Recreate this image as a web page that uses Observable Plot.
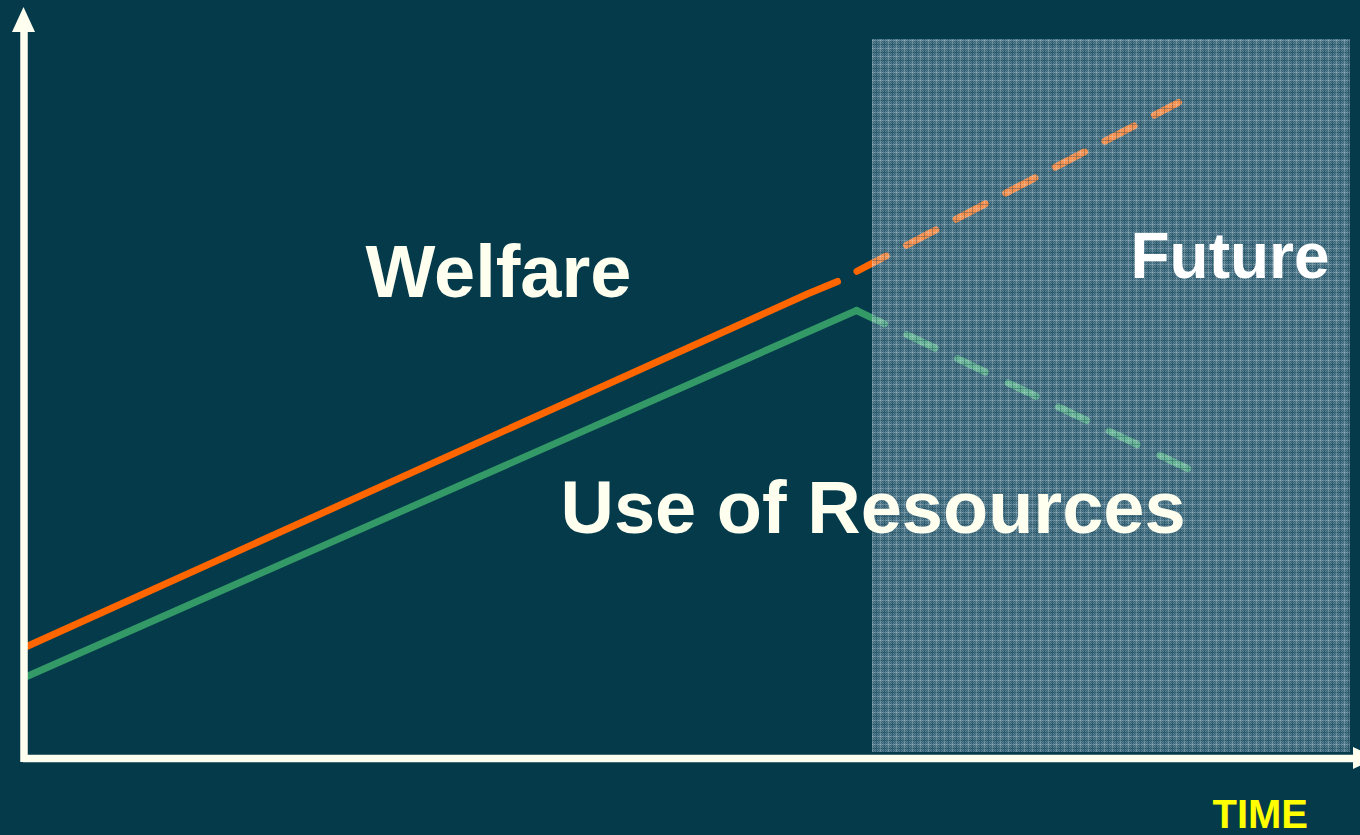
<!DOCTYPE html>
<html>
<head>
<meta charset="utf-8">
<script src="https://cdn.jsdelivr.net/npm/d3@7"></script>
<script src="https://cdn.jsdelivr.net/npm/@observablehq/plot@0.6"></script>
<style>
  html, body { margin: 0; padding: 0; background: #053a4b; overflow: hidden; }
  #chart svg { display: block; }
</style>
</head>
<body>
<div id="chart"></div>
<script>
// ---- data (time units along x, level units along y) ----
const welfareTime = [0, 784, 813];
const welfareLevel = [112, 466, 478];
const welfareFutureTime = [813, 1154];
const welfareFutureLevel = [478, 657];

const resourcesTime = [0, 832];
const resourcesLevel = [82, 449];
const resourcesFutureTime = [832, 1165];
const resourcesFutureLevel = [449, 290];

const futureStart = 848, futureEnd = 1326;
const futureLow = 7, futureHigh = 720;

const labels = ["Welfare", "Use of Resources", "Future"];
const labelTime = [341, 536, 1106];
const labelLevel = [463, 227, 482];
const labelSize = [74, 74, 64];
const labelColor = ["#fffff0", "#fffff0", "#ffffff"];

const axisTitle = "TIME";
const axisTitleTime = 1188;
const axisTitleLevel = -68;

// axis arrows
const yAxisTop = 727, xAxisEnd = 1330;
const upArrowLevel = [727, 752];
const upArrowLeft = [-12, -0.5];
const upArrowRight = [11, -0.5];
const rightArrowTime = [1329, 1353];
const rightArrowLow = [-10, 1];
const rightArrowHigh = [12, 1];

const toRows = (xs, ys) => xs.map((x, i) => ({x, y: ys[i]}));

const font = "'Liberation Sans', Arial, Helvetica, sans-serif";

const plot = Plot.plot({
  width: 1360,
  height: 835,
  margin: 0,
  x: {domain: [0, 1336], range: [24, 1360], axis: null},
  y: {domain: [0, 759], range: [759, 0], axis: null},
  style: {background: "#053a4b", fontFamily: font},
  marks: [
    // welfare
    Plot.line(toRows(welfareTime, welfareLevel), {x: "x", y: "y", stroke: "#ff6600", strokeWidth: 7}),
    Plot.line(toRows(welfareFutureTime, welfareFutureLevel), {x: "x", y: "y", stroke: "#ff6600", strokeWidth: 7, strokeDasharray: "33 23", strokeDashoffset: 34}),
    // resources
    Plot.line(toRows(resourcesTime, resourcesLevel), {x: "x", y: "y", stroke: "#339966", strokeWidth: 7}),
    Plot.line(toRows(resourcesFutureTime, resourcesFutureLevel), {x: "x", y: "y", stroke: "#339966", strokeWidth: 7, strokeDasharray: "31 25"}),
    // future overlay
    Plot.rect([{x1: futureStart, x2: futureEnd, y1: futureLow, y2: futureHigh}], {x1: "x1", x2: "x2", y1: "y1", y2: "y2", fill: "url(#futurePattern)"}),
    // labels
    Plot.text(labels.map((t, i) => ({t, x: labelTime[i], y: labelLevel[i], s: labelSize[i], c: labelColor[i]})), {
      x: "x", y: "y", text: "t", fill: "c", fontSize: d => d.s, fontWeight: "bold",
      textAnchor: "start", lineAnchor: "bottom"
    }),
    Plot.text([axisTitle], {x: () => axisTitleTime, y: () => axisTitleLevel, text: d => d, fill: "#ffff00", fontSize: 40, fontWeight: "bold", textAnchor: "start", lineAnchor: "bottom"}),
    // axes
    Plot.ruleX([-0.5], {x: d => d, y1: -3, y2: yAxisTop, stroke: "#fffff0", strokeWidth: 7.5}),
    Plot.ruleY([1], {y: d => d, x1: -1, x2: xAxisEnd, stroke: "#fffff0", strokeWidth: 7.5}),
    Plot.areaX(upArrowLevel.map((y, i) => ({y, x1: upArrowLeft[i], x2: upArrowRight[i]})), {y: "y", x1: "x1", x2: "x2", fill: "#fffff0"}),
    Plot.areaY(rightArrowTime.map((x, i) => ({x, y1: rightArrowLow[i], y2: rightArrowHigh[i]})), {x: "x", y1: "y1", y2: "y2", fill: "#fffff0"})
  ]
});

// textured pattern for the "future" region
const svg = d3.select(plot);
const defs = svg.insert("defs", ":first-child");
const pat = defs.append("pattern")
  .attr("id", "futurePattern")
  .attr("patternUnits", "userSpaceOnUse")
  .attr("width", 8).attr("height", 8);
pat.append("rect").attr("width", 8).attr("height", 8).attr("fill", "#d6e8ff").attr("fill-opacity", 0.24);
for (let i = 0; i < 8; i++) {
  for (let j = 0; j < 8; j++) {
    if ((i + j) % 2 === 0) {
      pat.append("rect").attr("x", i).attr("y", j).attr("width", 1).attr("height", 1)
        .attr("fill", "#e4f0ff").attr("fill-opacity", 0.2);
    }
  }
}
pat.append("rect").attr("x", 0).attr("y", 0).attr("width", 8).attr("height", 1).attr("fill", "#f0f8ff").attr("fill-opacity", 0.22);
pat.append("rect").attr("x", 0).attr("y", 0).attr("width", 1).attr("height", 8).attr("fill", "#f0f8ff").attr("fill-opacity", 0.22);
pat.append("rect").attr("x", 0).attr("y", 4).attr("width", 8).attr("height", 1).attr("fill", "#02364a").attr("fill-opacity", 0.3);
pat.append("rect").attr("x", 4).attr("y", 0).attr("width", 1).attr("height", 8).attr("fill", "#02364a").attr("fill-opacity", 0.3);

document.getElementById("chart").appendChild(plot);
</script>
</body>
</html>
